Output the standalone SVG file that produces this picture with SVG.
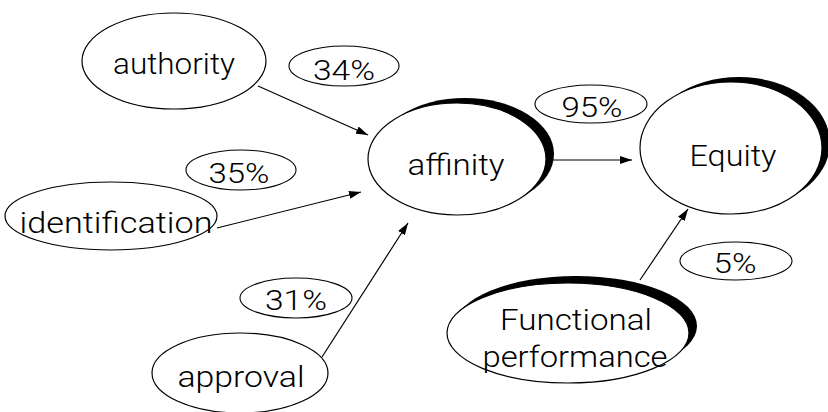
<svg xmlns="http://www.w3.org/2000/svg" width="828" height="412" viewBox="0 0 828 412">
  <defs>
    <marker id="arrow" viewBox="0 0 12 8" refX="12" refY="4" markerWidth="12" markerHeight="8" markerUnits="userSpaceOnUse" orient="auto">
      <path d="M0,0 L12,4 L0,8 Z" fill="#000"/>
    </marker>
  </defs>
  <style>
    .node { fill: #fff; stroke: #000; stroke-width: 1.2; }
    .shadow { fill: #000; stroke: none; }
    .pct { fill: #fff; stroke: #000; stroke-width: 1.1; }
    .label { font-family: Roboto, "Liberation Sans", Arial, sans-serif; font-weight: 300; font-size: 30px; fill: #000; text-anchor: middle; }
    .num { font-size: 27px; }
    .edge { stroke: #000; stroke-width: 1.2; fill: none; marker-end: url(#arrow); }
  </style>
  <rect width="828" height="412" fill="#fff"/>

  <!-- connectors -->
  <g id="connectors">
    <line class="edge" x1="258" y1="86" x2="368" y2="135"/>
    <line class="edge" x1="217" y1="228" x2="361" y2="192"/>
    <line class="edge" x1="322" y1="357" x2="408" y2="223"/>
    <line class="edge" x1="553" y1="160" x2="632" y2="160"/>
    <line class="edge" x1="640" y1="280" x2="688" y2="209"/>
  </g>

  <!-- source nodes -->
  <g id="authority">
    <ellipse class="node" cx="174" cy="61" rx="92" ry="48"/>
    <text class="label" x="174" y="74" textLength="122" lengthAdjust="spacingAndGlyphs">authority</text>
  </g>
  <g id="identification">
    <ellipse class="node" cx="111" cy="216" rx="106" ry="34"/>
    <text class="label" x="116" y="233" textLength="193" lengthAdjust="spacingAndGlyphs">identification</text>
  </g>
  <g id="approval">
    <ellipse class="node" cx="240" cy="373" rx="88" ry="40"/>
    <text class="label" x="241" y="387" textLength="127" lengthAdjust="spacingAndGlyphs">approval</text>
  </g>

  <!-- central nodes with crescent shadow -->
  <g id="affinity">
    <ellipse class="shadow" cx="465" cy="154" rx="89" ry="56"/>
    <ellipse class="node" cx="457" cy="159" rx="89" ry="56"/>
    <text class="label" x="456" y="175" textLength="97" lengthAdjust="spacingAndGlyphs">affinity</text>
  </g>
  <g id="equity">
    <ellipse class="shadow" cx="739" cy="143" rx="91" ry="66"/>
    <ellipse class="node" cx="731" cy="148" rx="91" ry="66"/>
    <text class="label" x="733" y="166" font-size="32" textLength="87" lengthAdjust="spacingAndGlyphs">Equity</text>
  </g>
  <g id="functional-performance">
    <ellipse class="shadow" cx="576" cy="326" rx="121" ry="50"/>
    <ellipse class="node" cx="568" cy="333" rx="121" ry="50"/>
    <text class="label" x="576" y="330" textLength="152" lengthAdjust="spacingAndGlyphs">Functional</text>
    <text class="label" x="575" y="367" textLength="185" lengthAdjust="spacingAndGlyphs">performance</text>
  </g>

  <!-- path weights -->
  <g id="w34">
    <ellipse class="pct" cx="344" cy="66" rx="55" ry="20"/>
    <text class="label num" x="344" y="80" textLength="62" lengthAdjust="spacingAndGlyphs">34%</text>
  </g>
  <g id="w35">
    <ellipse class="pct" cx="241" cy="170" rx="55" ry="20"/>
    <text class="label num" x="239" y="183" textLength="61" lengthAdjust="spacingAndGlyphs">35%</text>
  </g>
  <g id="w31">
    <ellipse class="pct" cx="296" cy="298" rx="56" ry="20"/>
    <text class="label num" x="296" y="310" textLength="62" lengthAdjust="spacingAndGlyphs">31%</text>
  </g>
  <g id="w95">
    <ellipse class="pct" cx="591" cy="104" rx="56" ry="19"/>
    <text class="label num" x="592" y="117" textLength="61" lengthAdjust="spacingAndGlyphs">95%</text>
  </g>
  <g id="w5">
    <ellipse class="pct" cx="736" cy="261" rx="56" ry="19"/>
    <text class="label num" x="735" y="273" textLength="43" lengthAdjust="spacingAndGlyphs">5%</text>
  </g>
</svg>
